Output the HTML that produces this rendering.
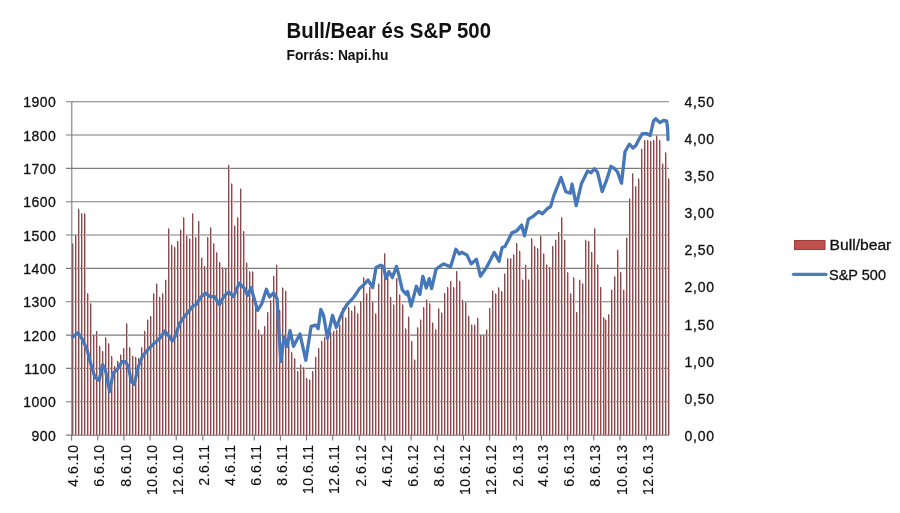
<!DOCTYPE html><html><head><meta charset="utf-8"><style>html,body{margin:0;padding:0;background:#fff;}svg{display:block;filter:blur(0.35px);}text{font-family:"Liberation Sans",sans-serif;}</style></head><body>
<svg width="900" height="513" viewBox="0 0 900 513">
<rect x="0" y="0" width="900" height="513" fill="#fff"/>
<text x="286.5" y="38" font-size="22" font-weight="bold" fill="#111" textLength="204.5" lengthAdjust="spacingAndGlyphs">Bull/Bear és S&amp;P 500</text>
<text x="286.5" y="60.3" font-size="14" font-weight="bold" fill="#111" textLength="102" lengthAdjust="spacingAndGlyphs">Forrás: Napi.hu</text>
<path d="M66,101.70H669 M66,135.04H669 M66,168.38H669 M66,201.72H669 M66,235.06H669 M66,268.40H669 M66,301.74H669 M66,335.08H669 M66,368.42H669 M66,401.76H669 M66,435.10H669" stroke="#7b7b7b" stroke-width="1.1" fill="none"/>
<path d="M73,243.9h1V435.1h-1z M76,235.7h1V435.1h-1z M79,209.4h1V435.1h-1z M82,213.9h1V435.1h-1z M85,213.9h1V435.1h-1z M88,293.8h1V435.1h-1z M91,303.8h1V435.1h-1z M94,335.9h1V435.1h-1z M97,331.6h1V435.1h-1z M100,346.4h1V435.1h-1z M103,351.6h1V435.1h-1z M106,337.9h1V435.1h-1z M109,343.8h1V435.1h-1z M112,356.7h1V435.1h-1z M115,366.6h1V435.1h-1z M118,361.3h1V435.1h-1z M121,355.0h1V435.1h-1z M124,348.7h1V435.1h-1z M127,323.9h1V435.1h-1z M130,347.7h1V435.1h-1z M133,356.4h1V435.1h-1z M136,357.6h1V435.1h-1z M139,358.6h1V435.1h-1z M142,347.8h1V435.1h-1z M145,331.4h1V435.1h-1z M148,320.2h1V435.1h-1z M151,316.7h1V435.1h-1z M154,293.9h1V435.1h-1z M157,284.0h1V435.1h-1z M160,297.4h1V435.1h-1z M163,293.9h1V435.1h-1z M166,280.3h1V435.1h-1z M169,228.9h1V435.1h-1z M172,245.4h1V435.1h-1z M175,247.4h1V435.1h-1z M178,241.5h1V435.1h-1z M181,230.2h1V435.1h-1z M184,217.8h1V435.1h-1z M187,236.3h1V435.1h-1z M190,239.0h1V435.1h-1z M193,213.9h1V435.1h-1z M196,237.6h1V435.1h-1z M199,221.6h1V435.1h-1z M202,258.1h1V435.1h-1z M205,266.5h1V435.1h-1z M208,237.6h1V435.1h-1z M211,227.9h1V435.1h-1z M214,243.9h1V435.1h-1z M217,252.8h1V435.1h-1z M220,262.6h1V435.1h-1z M223,267.9h1V435.1h-1z M226,268.8h1V435.1h-1z M229,165.4h1V435.1h-1z M232,184.1h1V435.1h-1z M235,226.2h1V435.1h-1z M238,217.9h1V435.1h-1z M241,189.0h1V435.1h-1z M244,231.5h1V435.1h-1z M247,263.1h1V435.1h-1z M250,271.9h1V435.1h-1z M253,271.9h1V435.1h-1z M256,304.6h1V435.1h-1z M259,330.1h1V435.1h-1z M262,335.7h1V435.1h-1z M265,326.7h1V435.1h-1z M268,312.6h1V435.1h-1z M271,300.6h1V435.1h-1z M274,276.6h1V435.1h-1z M277,265.3h1V435.1h-1z M280,310.6h1V435.1h-1z M283,288.0h1V435.1h-1z M286,291.4h1V435.1h-1z M289,338.6h1V435.1h-1z M292,352.7h1V435.1h-1z M295,358.8h1V435.1h-1z M298,371.7h1V435.1h-1z M301,365.0h1V435.1h-1z M304,367.8h1V435.1h-1z M307,378.7h1V435.1h-1z M310,380.1h1V435.1h-1z M313,371.7h1V435.1h-1z M316,357.4h1V435.1h-1z M319,348.7h1V435.1h-1z M322,341.3h1V435.1h-1z M325,337.6h1V435.1h-1z M328,334.6h1V435.1h-1z M331,332.6h1V435.1h-1z M334,331.6h1V435.1h-1z M337,330.3h1V435.1h-1z M340,325.0h1V435.1h-1z M343,308.7h1V435.1h-1z M346,318.0h1V435.1h-1z M349,307.5h1V435.1h-1z M352,311.2h1V435.1h-1z M355,306.3h1V435.1h-1z M358,313.9h1V435.1h-1z M361,301.6h1V435.1h-1z M364,277.8h1V435.1h-1z M367,293.8h1V435.1h-1z M370,287.6h1V435.1h-1z M373,302.4h1V435.1h-1z M376,314.1h1V435.1h-1z M379,284.2h1V435.1h-1z M382,267.6h1V435.1h-1z M385,253.8h1V435.1h-1z M388,272.6h1V435.1h-1z M391,297.5h1V435.1h-1z M394,304.9h1V435.1h-1z M397,278.6h1V435.1h-1z M400,295.0h1V435.1h-1z M403,304.9h1V435.1h-1z M406,328.9h1V435.1h-1z M409,317.2h1V435.1h-1z M412,341.5h1V435.1h-1z M415,360.1h1V435.1h-1z M418,327.9h1V435.1h-1z M421,320.1h1V435.1h-1z M424,307.6h1V435.1h-1z M427,300.1h1V435.1h-1z M430,303.8h1V435.1h-1z M433,323.0h1V435.1h-1z M436,329.8h1V435.1h-1z M439,308.8h1V435.1h-1z M442,313.0h1V435.1h-1z M445,293.6h1V435.1h-1z M448,287.7h1V435.1h-1z M451,281.5h1V435.1h-1z M454,287.7h1V435.1h-1z M457,271.7h1V435.1h-1z M460,281.5h1V435.1h-1z M463,300.4h1V435.1h-1z M466,302.9h1V435.1h-1z M469,316.4h1V435.1h-1z M472,325.2h1V435.1h-1z M475,325.2h1V435.1h-1z M478,318.4h1V435.1h-1z M481,335.9h1V435.1h-1z M484,335.9h1V435.1h-1z M487,330.1h1V435.1h-1z M490,308.6h1V435.1h-1z M493,291.1h1V435.1h-1z M496,294.0h1V435.1h-1z M499,287.8h1V435.1h-1z M502,291.7h1V435.1h-1z M505,274.0h1V435.1h-1z M508,258.8h1V435.1h-1z M511,258.8h1V435.1h-1z M514,254.9h1V435.1h-1z M517,243.6h1V435.1h-1z M520,251.4h1V435.1h-1z M523,280.2h1V435.1h-1z M526,265.3h1V435.1h-1z M529,280.2h1V435.1h-1z M532,238.9h1V435.1h-1z M535,246.7h1V435.1h-1z M538,248.7h1V435.1h-1z M541,236.3h1V435.1h-1z M544,254.0h1V435.1h-1z M547,265.1h1V435.1h-1z M550,267.6h1V435.1h-1z M553,246.7h1V435.1h-1z M556,240.3h1V435.1h-1z M559,232.6h1V435.1h-1z M562,217.8h1V435.1h-1z M565,240.3h1V435.1h-1z M568,272.8h1V435.1h-1z M571,293.8h1V435.1h-1z M574,277.8h1V435.1h-1z M577,312.5h1V435.1h-1z M580,280.3h1V435.1h-1z M583,283.9h1V435.1h-1z M586,240.4h1V435.1h-1z M589,241.6h1V435.1h-1z M592,252.6h1V435.1h-1z M595,228.8h1V435.1h-1z M598,265.2h1V435.1h-1z M601,287.6h1V435.1h-1z M604,317.8h1V435.1h-1z M606,320.1h1V435.1h-1z M609,314.8h1V435.1h-1z M612,290.3h1V435.1h-1z M615,276.8h1V435.1h-1z M618,250.3h1V435.1h-1z M621,272.7h1V435.1h-1z M624,290.3h1V435.1h-1z M627,238.0h1V435.1h-1z M630,199.1h1V435.1h-1z M633,173.9h1V435.1h-1z M636,186.8h1V435.1h-1z M639,179.0h1V435.1h-1z M642,149.3h1V435.1h-1z M645,140.7h1V435.1h-1z M648,140.6h1V435.1h-1z M651,141.6h1V435.1h-1z M654,140.6h1V435.1h-1z M657,136.2h1V435.1h-1z M660,140.6h1V435.1h-1z M663,164.1h1V435.1h-1z M666,152.8h1V435.1h-1z M669,179.1h1V435.1h-1z" fill="#e3acae"/>
<path d="M72,243.3h1V435.1h-1z M75,235.1h1V435.1h-1z M78,208.8h1V435.1h-1z M81,213.3h1V435.1h-1z M84,213.3h1V435.1h-1z M87,293.2h1V435.1h-1z M90,303.2h1V435.1h-1z M93,335.3h1V435.1h-1z M96,331.0h1V435.1h-1z M99,345.8h1V435.1h-1z M102,351.0h1V435.1h-1z M105,337.3h1V435.1h-1z M108,343.2h1V435.1h-1z M111,356.1h1V435.1h-1z M114,366.0h1V435.1h-1z M117,360.7h1V435.1h-1z M120,354.4h1V435.1h-1z M123,348.1h1V435.1h-1z M126,323.3h1V435.1h-1z M129,347.1h1V435.1h-1z M132,355.8h1V435.1h-1z M135,357.0h1V435.1h-1z M138,358.0h1V435.1h-1z M141,347.2h1V435.1h-1z M144,330.8h1V435.1h-1z M147,319.6h1V435.1h-1z M150,316.1h1V435.1h-1z M153,293.3h1V435.1h-1z M156,283.4h1V435.1h-1z M159,296.8h1V435.1h-1z M162,293.3h1V435.1h-1z M165,279.7h1V435.1h-1z M168,228.3h1V435.1h-1z M171,244.8h1V435.1h-1z M174,246.8h1V435.1h-1z M177,240.9h1V435.1h-1z M180,229.6h1V435.1h-1z M183,217.2h1V435.1h-1z M186,235.7h1V435.1h-1z M189,238.4h1V435.1h-1z M192,213.3h1V435.1h-1z M195,237.0h1V435.1h-1z M198,221.0h1V435.1h-1z M201,257.5h1V435.1h-1z M204,265.9h1V435.1h-1z M207,237.0h1V435.1h-1z M210,227.3h1V435.1h-1z M213,243.3h1V435.1h-1z M216,252.2h1V435.1h-1z M219,262.0h1V435.1h-1z M222,267.3h1V435.1h-1z M225,268.2h1V435.1h-1z M228,164.8h1V435.1h-1z M231,183.5h1V435.1h-1z M234,225.6h1V435.1h-1z M237,217.3h1V435.1h-1z M240,188.4h1V435.1h-1z M243,230.9h1V435.1h-1z M246,262.5h1V435.1h-1z M249,271.3h1V435.1h-1z M252,271.3h1V435.1h-1z M255,304.0h1V435.1h-1z M258,329.5h1V435.1h-1z M261,335.1h1V435.1h-1z M264,326.1h1V435.1h-1z M267,312.0h1V435.1h-1z M270,300.0h1V435.1h-1z M273,276.0h1V435.1h-1z M276,264.7h1V435.1h-1z M279,310.0h1V435.1h-1z M282,287.4h1V435.1h-1z M285,290.8h1V435.1h-1z M288,338.0h1V435.1h-1z M291,352.1h1V435.1h-1z M294,358.2h1V435.1h-1z M297,371.1h1V435.1h-1z M300,364.4h1V435.1h-1z M303,367.2h1V435.1h-1z M306,378.1h1V435.1h-1z M309,379.5h1V435.1h-1z M312,371.1h1V435.1h-1z M315,356.8h1V435.1h-1z M318,348.1h1V435.1h-1z M321,340.7h1V435.1h-1z M324,337.0h1V435.1h-1z M327,334.0h1V435.1h-1z M330,332.0h1V435.1h-1z M333,331.0h1V435.1h-1z M336,329.7h1V435.1h-1z M339,324.4h1V435.1h-1z M342,308.1h1V435.1h-1z M345,317.4h1V435.1h-1z M348,306.9h1V435.1h-1z M351,310.6h1V435.1h-1z M354,305.7h1V435.1h-1z M357,313.3h1V435.1h-1z M360,301.0h1V435.1h-1z M363,277.2h1V435.1h-1z M366,293.2h1V435.1h-1z M369,287.0h1V435.1h-1z M372,301.8h1V435.1h-1z M375,313.5h1V435.1h-1z M378,283.6h1V435.1h-1z M381,267.0h1V435.1h-1z M384,253.2h1V435.1h-1z M387,272.0h1V435.1h-1z M390,296.9h1V435.1h-1z M393,304.3h1V435.1h-1z M396,278.0h1V435.1h-1z M399,294.4h1V435.1h-1z M402,304.3h1V435.1h-1z M405,328.3h1V435.1h-1z M408,316.6h1V435.1h-1z M411,340.9h1V435.1h-1z M414,359.5h1V435.1h-1z M417,327.3h1V435.1h-1z M420,319.5h1V435.1h-1z M423,307.0h1V435.1h-1z M426,299.5h1V435.1h-1z M429,303.2h1V435.1h-1z M432,322.4h1V435.1h-1z M435,329.2h1V435.1h-1z M438,308.2h1V435.1h-1z M441,312.4h1V435.1h-1z M444,293.0h1V435.1h-1z M447,287.1h1V435.1h-1z M450,280.9h1V435.1h-1z M453,287.1h1V435.1h-1z M456,271.1h1V435.1h-1z M459,280.9h1V435.1h-1z M462,299.8h1V435.1h-1z M465,302.3h1V435.1h-1z M468,315.8h1V435.1h-1z M471,324.6h1V435.1h-1z M474,324.6h1V435.1h-1z M477,317.8h1V435.1h-1z M480,335.3h1V435.1h-1z M483,335.3h1V435.1h-1z M486,329.5h1V435.1h-1z M489,308.0h1V435.1h-1z M492,290.5h1V435.1h-1z M495,293.4h1V435.1h-1z M498,287.2h1V435.1h-1z M501,291.1h1V435.1h-1z M504,273.4h1V435.1h-1z M507,258.2h1V435.1h-1z M510,258.2h1V435.1h-1z M513,254.3h1V435.1h-1z M516,243.0h1V435.1h-1z M519,250.8h1V435.1h-1z M522,279.6h1V435.1h-1z M525,264.7h1V435.1h-1z M528,279.6h1V435.1h-1z M531,238.3h1V435.1h-1z M534,246.1h1V435.1h-1z M537,248.1h1V435.1h-1z M540,235.7h1V435.1h-1z M543,253.4h1V435.1h-1z M546,264.5h1V435.1h-1z M549,267.0h1V435.1h-1z M552,246.1h1V435.1h-1z M555,239.7h1V435.1h-1z M558,232.0h1V435.1h-1z M561,217.2h1V435.1h-1z M564,239.7h1V435.1h-1z M567,272.2h1V435.1h-1z M570,293.2h1V435.1h-1z M573,277.2h1V435.1h-1z M576,311.9h1V435.1h-1z M579,279.7h1V435.1h-1z M582,283.3h1V435.1h-1z M585,239.8h1V435.1h-1z M588,241.0h1V435.1h-1z M591,252.0h1V435.1h-1z M594,228.2h1V435.1h-1z M597,264.6h1V435.1h-1z M600,287.0h1V435.1h-1z M603,317.2h1V435.1h-1z M605,319.5h1V435.1h-1z M608,314.2h1V435.1h-1z M611,289.7h1V435.1h-1z M614,276.2h1V435.1h-1z M617,249.7h1V435.1h-1z M620,272.1h1V435.1h-1z M623,289.7h1V435.1h-1z M626,237.4h1V435.1h-1z M629,198.5h1V435.1h-1z M632,173.3h1V435.1h-1z M635,186.2h1V435.1h-1z M638,178.4h1V435.1h-1z M641,148.7h1V435.1h-1z M644,140.1h1V435.1h-1z M647,140.0h1V435.1h-1z M650,141.0h1V435.1h-1z M653,140.0h1V435.1h-1z M656,135.6h1V435.1h-1z M659,140.0h1V435.1h-1z M662,163.5h1V435.1h-1z M665,152.2h1V435.1h-1z M668,178.5h1V435.1h-1z" fill="#824f50"/>
<path d="M71.8,101.7V435.1" stroke="#7b7b7b" stroke-width="1.1" fill="none"/>
<polyline points="72.7,336.9 77.9,332.8 82.0,338.7 87.0,349.5 91.4,366.1 95.0,377.4 99.1,380.4 102.6,364.6 105.5,370.4 109.6,391.5 113.1,373.3 117.8,368.7 121.9,361.6 125.4,361.6 128.4,366.9 131.3,381.5 134.2,384.4 138.3,366.5 142.4,356.4 148.0,349.5 153.5,343.9 159.4,338.7 164.7,331.1 168.2,335.1 172.3,341.0 175.8,335.1 179.3,324.0 184.0,317.0 189.1,310.9 193.8,305.1 196.0,304.8 200.7,297.2 205.4,293.1 210.0,296.6 214.7,296.6 219.4,304.8 224.1,296.0 228.7,291.9 233.4,296.6 239.3,283.1 244.0,287.8 247.5,295.4 251.0,287.8 253.5,296.3 257.6,310.4 261.7,303.9 266.4,289.3 269.5,297.0 273.6,292.9 277.1,298.8 280.7,361.5 284.2,336.9 287.1,346.3 290.0,330.5 293.5,346.3 300.0,334.0 305.8,360.3 311.1,326.4 315.8,325.2 318.1,328.7 320.8,309.5 323.5,315.1 327.5,338.1 332.5,315.3 336.3,327.5 341.6,313.9 346.9,304.6 353.9,297.0 359.8,288.2 363.9,284.7 368.0,280.0 372.7,287.5 376.0,267.5 380.7,265.2 383.6,266.4 385.9,278.7 388.9,271.6 392.4,277.5 396.5,266.4 398.8,274.6 402.3,289.8 406.4,294.4 407.6,291.5 411.1,306.1 416.4,286.3 419.9,294.4 422.8,276.3 426.3,288.0 429.2,278.7 431.6,288.6 436.0,269.3 438.3,267.4 443.6,263.9 450.6,266.8 455.9,249.3 459.4,254.0 461.7,252.2 467.0,255.1 471.1,263.9 476.4,259.2 480.4,276.2 486.9,266.8 494.3,252.4 499.1,261.2 502.1,247.5 505.0,246.5 511.8,232.9 516.7,230.9 521.6,225.1 524.5,235.8 528.4,219.2 533.5,216.1 538.8,211.5 542.3,213.8 547.5,208.5 550.5,206.8 554.0,195.1 561.0,177.5 565.7,191.6 570.4,193.3 572.1,184.0 576.2,205.6 581.5,183.4 587.6,171.0 591.1,172.7 594.6,168.7 597.5,172.2 602.2,191.5 606.3,180.9 611.0,166.3 614.5,168.7 617.4,171.6 621.5,183.3 625.0,151.7 629.3,144.2 633.0,148.0 635.9,145.4 638.8,139.6 642.3,133.7 647.0,133.7 650.2,135.5 653.5,121.0 655.8,118.8 659.9,122.6 663.4,120.5 666.6,120.8 667.6,128.0 668.0,139.5" fill="none" stroke="#4677b8" stroke-width="3.3" stroke-linejoin="round" stroke-linecap="round"/>
<text x="56.3" y="107.2" font-size="14" letter-spacing="0.5" fill="#111" stroke="#111" stroke-width="0.3" text-anchor="end">1900</text>
<text x="56.3" y="140.5" font-size="14" letter-spacing="0.5" fill="#111" stroke="#111" stroke-width="0.3" text-anchor="end">1800</text>
<text x="56.3" y="173.9" font-size="14" letter-spacing="0.5" fill="#111" stroke="#111" stroke-width="0.3" text-anchor="end">1700</text>
<text x="56.3" y="207.2" font-size="14" letter-spacing="0.5" fill="#111" stroke="#111" stroke-width="0.3" text-anchor="end">1600</text>
<text x="56.3" y="240.6" font-size="14" letter-spacing="0.5" fill="#111" stroke="#111" stroke-width="0.3" text-anchor="end">1500</text>
<text x="56.3" y="273.9" font-size="14" letter-spacing="0.5" fill="#111" stroke="#111" stroke-width="0.3" text-anchor="end">1400</text>
<text x="56.3" y="307.2" font-size="14" letter-spacing="0.5" fill="#111" stroke="#111" stroke-width="0.3" text-anchor="end">1300</text>
<text x="56.3" y="340.6" font-size="14" letter-spacing="0.5" fill="#111" stroke="#111" stroke-width="0.3" text-anchor="end">1200</text>
<text x="56.3" y="373.9" font-size="14" letter-spacing="0.5" fill="#111" stroke="#111" stroke-width="0.3" text-anchor="end">1100</text>
<text x="56.3" y="407.3" font-size="14" letter-spacing="0.5" fill="#111" stroke="#111" stroke-width="0.3" text-anchor="end">1000</text>
<text x="56.3" y="440.6" font-size="14" letter-spacing="0.5" fill="#111" stroke="#111" stroke-width="0.3" text-anchor="end">900</text>
<text x="684.4" y="107.2" font-size="14" letter-spacing="0.8" fill="#111" stroke="#111" stroke-width="0.3">4,50</text>
<text x="684.4" y="144.2" font-size="14" letter-spacing="0.8" fill="#111" stroke="#111" stroke-width="0.3">4,00</text>
<text x="684.4" y="181.3" font-size="14" letter-spacing="0.8" fill="#111" stroke="#111" stroke-width="0.3">3,50</text>
<text x="684.4" y="218.3" font-size="14" letter-spacing="0.8" fill="#111" stroke="#111" stroke-width="0.3">3,00</text>
<text x="684.4" y="255.4" font-size="14" letter-spacing="0.8" fill="#111" stroke="#111" stroke-width="0.3">2,50</text>
<text x="684.4" y="292.4" font-size="14" letter-spacing="0.8" fill="#111" stroke="#111" stroke-width="0.3">2,00</text>
<text x="684.4" y="329.5" font-size="14" letter-spacing="0.8" fill="#111" stroke="#111" stroke-width="0.3">1,50</text>
<text x="684.4" y="366.5" font-size="14" letter-spacing="0.8" fill="#111" stroke="#111" stroke-width="0.3">1,00</text>
<text x="684.4" y="403.6" font-size="14" letter-spacing="0.8" fill="#111" stroke="#111" stroke-width="0.3">0,50</text>
<text x="684.4" y="440.6" font-size="14" letter-spacing="0.8" fill="#111" stroke="#111" stroke-width="0.3">0,00</text>
<text transform="translate(78.20,444.5) rotate(-90)" x="0" y="0" font-size="14" letter-spacing="0.55" fill="#111" stroke="#111" stroke-width="0.15" text-anchor="end">4.6.10</text>
<text transform="translate(104.35,444.5) rotate(-90)" x="0" y="0" font-size="14" letter-spacing="0.55" fill="#111" stroke="#111" stroke-width="0.15" text-anchor="end">6.6.10</text>
<text transform="translate(130.51,444.5) rotate(-90)" x="0" y="0" font-size="14" letter-spacing="0.55" fill="#111" stroke="#111" stroke-width="0.15" text-anchor="end">8.6.10</text>
<text transform="translate(156.66,444.5) rotate(-90)" x="0" y="0" font-size="14" letter-spacing="0.55" fill="#111" stroke="#111" stroke-width="0.15" text-anchor="end">10.6.10</text>
<text transform="translate(182.81,444.5) rotate(-90)" x="0" y="0" font-size="14" letter-spacing="0.55" fill="#111" stroke="#111" stroke-width="0.15" text-anchor="end">12.6.10</text>
<text transform="translate(209.39,444.5) rotate(-90)" x="0" y="0" font-size="14" letter-spacing="0.55" fill="#111" stroke="#111" stroke-width="0.15" text-anchor="end">2.6.11</text>
<text transform="translate(234.69,444.5) rotate(-90)" x="0" y="0" font-size="14" letter-spacing="0.55" fill="#111" stroke="#111" stroke-width="0.15" text-anchor="end">4.6.11</text>
<text transform="translate(260.84,444.5) rotate(-90)" x="0" y="0" font-size="14" letter-spacing="0.55" fill="#111" stroke="#111" stroke-width="0.15" text-anchor="end">6.6.11</text>
<text transform="translate(286.99,444.5) rotate(-90)" x="0" y="0" font-size="14" letter-spacing="0.55" fill="#111" stroke="#111" stroke-width="0.15" text-anchor="end">8.6.11</text>
<text transform="translate(313.14,444.5) rotate(-90)" x="0" y="0" font-size="14" letter-spacing="0.55" fill="#111" stroke="#111" stroke-width="0.15" text-anchor="end">10.6.11</text>
<text transform="translate(339.30,444.5) rotate(-90)" x="0" y="0" font-size="14" letter-spacing="0.55" fill="#111" stroke="#111" stroke-width="0.15" text-anchor="end">12.6.11</text>
<text transform="translate(365.88,444.5) rotate(-90)" x="0" y="0" font-size="14" letter-spacing="0.55" fill="#111" stroke="#111" stroke-width="0.15" text-anchor="end">2.6.12</text>
<text transform="translate(391.60,444.5) rotate(-90)" x="0" y="0" font-size="14" letter-spacing="0.55" fill="#111" stroke="#111" stroke-width="0.15" text-anchor="end">4.6.12</text>
<text transform="translate(417.76,444.5) rotate(-90)" x="0" y="0" font-size="14" letter-spacing="0.55" fill="#111" stroke="#111" stroke-width="0.15" text-anchor="end">6.6.12</text>
<text transform="translate(443.91,444.5) rotate(-90)" x="0" y="0" font-size="14" letter-spacing="0.55" fill="#111" stroke="#111" stroke-width="0.15" text-anchor="end">8.6.12</text>
<text transform="translate(470.06,444.5) rotate(-90)" x="0" y="0" font-size="14" letter-spacing="0.55" fill="#111" stroke="#111" stroke-width="0.15" text-anchor="end">10.6.12</text>
<text transform="translate(496.21,444.5) rotate(-90)" x="0" y="0" font-size="14" letter-spacing="0.55" fill="#111" stroke="#111" stroke-width="0.15" text-anchor="end">12.6.12</text>
<text transform="translate(522.79,444.5) rotate(-90)" x="0" y="0" font-size="14" letter-spacing="0.55" fill="#111" stroke="#111" stroke-width="0.15" text-anchor="end">2.6.13</text>
<text transform="translate(548.09,444.5) rotate(-90)" x="0" y="0" font-size="14" letter-spacing="0.55" fill="#111" stroke="#111" stroke-width="0.15" text-anchor="end">4.6.13</text>
<text transform="translate(574.24,444.5) rotate(-90)" x="0" y="0" font-size="14" letter-spacing="0.55" fill="#111" stroke="#111" stroke-width="0.15" text-anchor="end">6.6.13</text>
<text transform="translate(600.39,444.5) rotate(-90)" x="0" y="0" font-size="14" letter-spacing="0.55" fill="#111" stroke="#111" stroke-width="0.15" text-anchor="end">8.6.13</text>
<text transform="translate(626.55,444.5) rotate(-90)" x="0" y="0" font-size="14" letter-spacing="0.55" fill="#111" stroke="#111" stroke-width="0.15" text-anchor="end">10.6.13</text>
<text transform="translate(652.70,444.5) rotate(-90)" x="0" y="0" font-size="14" letter-spacing="0.55" fill="#111" stroke="#111" stroke-width="0.15" text-anchor="end">12.6.13</text>
<path d="M71.60,435.1V440.5 M97.75,435.1V440.5 M123.91,435.1V440.5 M150.06,435.1V440.5 M176.21,435.1V440.5 M202.79,435.1V440.5 M228.09,435.1V440.5 M254.24,435.1V440.5 M280.39,435.1V440.5 M306.54,435.1V440.5 M332.70,435.1V440.5 M359.28,435.1V440.5 M385.00,435.1V440.5 M411.16,435.1V440.5 M437.31,435.1V440.5 M463.46,435.1V440.5 M489.61,435.1V440.5 M516.19,435.1V440.5 M541.49,435.1V440.5 M567.64,435.1V440.5 M593.79,435.1V440.5 M619.95,435.1V440.5 M646.10,435.1V440.5" stroke="#7b7b7b" stroke-width="1.1" fill="none"/>
<rect x="794.5" y="240.5" width="30.5" height="9" fill="#c0504d" stroke="#9c3d3a" stroke-width="1"/>
<text x="829.6" y="249.7" font-size="14" fill="#111" stroke="#111" stroke-width="0.3" textLength="61.7" lengthAdjust="spacingAndGlyphs">Bull/bear</text>
<path d="M793.5,274.3H826" stroke="#4a7ebb" stroke-width="3.3" stroke-linecap="round"/>
<text x="829" y="279.7" font-size="14" fill="#111" stroke="#111" stroke-width="0.3" textLength="57" lengthAdjust="spacingAndGlyphs">S&amp;P 500</text>
</svg></body></html>
